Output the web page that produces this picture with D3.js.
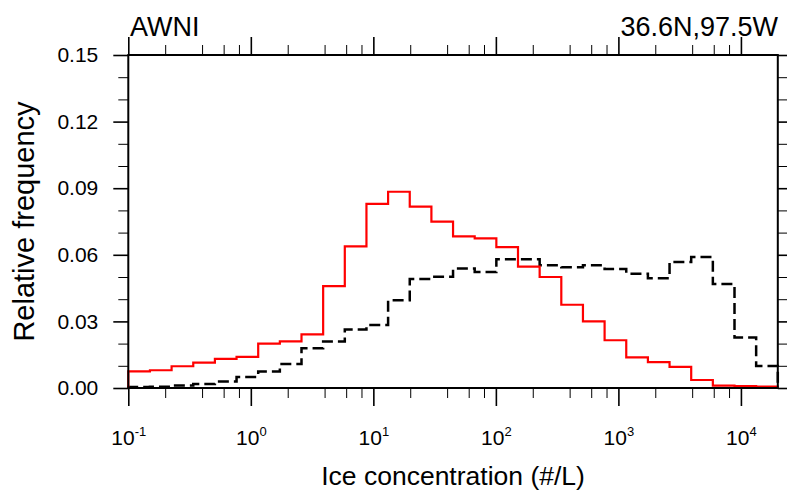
<!DOCTYPE html>
<html>
<head>
<meta charset="utf-8">
<script src="https://cdn.jsdelivr.net/npm/d3@7"></script>
<style>
  body { margin: 0; background: #fff; }
  svg { font-family: "Liberation Sans", Arial, sans-serif; }
  .axis path, .axis line { stroke: #000; }
</style>
</head>
<body>
<svg id="svg1" width="787" height="493"></svg>
<script>
var width = 787, height = 493;
var plotLeft = 128.3, plotRight = 777.8, plotTop = 55, plotBottom = 388;

// 30 log-spaced bins from 0.1 to 2e4 #/L
var nBins = 30;
var binEdges = d3.range(nBins + 1).map(function (k) {
    return Math.pow(10, -1 + k * Math.log10(2e5) / nBins);
});

// relative frequency per bin
var redFreq = [0.0075, 0.0080, 0.0098, 0.0114, 0.0131, 0.0140, 0.0200, 0.0210, 0.0242, 0.0459,
               0.0638, 0.0829, 0.0884, 0.0817, 0.0749, 0.0683, 0.0674, 0.0635, 0.0547, 0.0500,
               0.0375, 0.0300, 0.0215, 0.0138, 0.0117, 0.0095, 0.0036, 0.0011, 0.0009, 0.0006];
var blackFreq = [0.0005, 0.0006, 0.0011, 0.0018, 0.0029, 0.0050, 0.0074, 0.0108, 0.0179, 0.0209,
                 0.0264, 0.0284, 0.0395, 0.0491, 0.0501, 0.0538, 0.0523, 0.0580, 0.0580, 0.0553,
                 0.0544, 0.0553, 0.0536, 0.0515, 0.0494, 0.0568, 0.0590, 0.0468, 0.0228, 0.0099];

var xMajor = [0.1, 1, 10, 100, 1000, 10000];
var xExp = [-1, 0, 1, 2, 3, 4];
var xMinor = [];
xMajor.forEach(function (d) {
    [2, 4, 6, 8].forEach(function (m) { if (d * m < 2e4) xMinor.push(d * m); });
});
var yMajor = [0, 0.03, 0.06, 0.09, 0.12, 0.15];
var yMinor = d3.range(0, 16).map(function (i) { return i / 100; })
    .filter(function (v, i) { return i % 3 !== 0; });

var svg = d3.select('#svg1');

var x = d3.scaleLog().domain([0.1, 2e4]).range([plotLeft, plotRight]);
var y = d3.scaleLinear().domain([0, 0.15]).range([plotBottom, plotTop]);

function stepPoints(vals) {
    var pts = [[binEdges[0], 0]];
    vals.forEach(function (v, i) {
        pts.push([binEdges[i], v]);
        pts.push([binEdges[i + 1], v]);
    });
    pts.push([binEdges[nBins], 0]);
    return pts;
}

var line = d3.line()
    .x(function (d) { return x(d[0]); })
    .y(function (d) { return y(d[1]); });

svg.append('path')
    .attr('d', line(stepPoints(blackFreq)))
    .attr('fill', 'none')
    .attr('stroke', '#000')
    .attr('stroke-width', 2.5)
    .attr('stroke-dasharray', '11,5');

svg.append('path')
    .attr('d', line(stepPoints(redFreq)))
    .attr('fill', 'none')
    .attr('stroke', '#ff0000')
    .attr('stroke-width', 2.2);

// axes
function addAxis(axis, tx, ty, w) {
    var g = svg.append('g')
        .attr('class', 'axis')
        .attr('transform', 'translate(' + tx + ',' + ty + ')')
        .call(axis);
    g.select('.domain').remove();
    g.selectAll('line').attr('stroke-width', w);
    return g;
}

addAxis(d3.axisBottom(x).tickValues(xMinor).tickSize(10).tickFormat(''), 0, plotBottom, 1);
addAxis(d3.axisTop(x).tickValues(xMinor).tickSize(10).tickFormat(''), 0, plotTop, 1);
addAxis(d3.axisLeft(y).tickValues(yMinor).tickSize(10).tickFormat(''), plotLeft, 0, 1);
addAxis(d3.axisRight(y).tickValues(yMinor).tickSize(10).tickFormat(''), plotRight, 0, 1);

var gb = addAxis(d3.axisBottom(x).tickValues(xMajor).tickSize(18).tickFormat(''), 0, plotBottom, 1.6);
addAxis(d3.axisTop(x).tickValues(xMajor).tickSize(18).tickFormat(''), 0, plotTop, 1.6);
var gl = addAxis(d3.axisLeft(y).tickValues(yMajor).tickSize(15).tickPadding(15).tickFormat(d3.format('.2f')), plotLeft, 0, 1.6);
addAxis(d3.axisRight(y).tickValues(yMajor).tickSize(15).tickFormat(''), plotRight, 0, 1.6);

gl.attr('font-size', 21).attr('font-family', null);
gl.selectAll('text').attr('fill', '#000');

gb.attr('font-size', 21).attr('font-family', null);
gb.selectAll('.tick').each(function (d, i) {
    var t = d3.select(this).append('text')
        .attr('y', 57)
        .attr('text-anchor', 'middle')
        .attr('fill', '#000');
    t.append('tspan').text('10');
    t.append('tspan').attr('dy', -9).attr('font-size', 13).text(xExp[i]);
});

svg.append('rect')
    .attr('x', plotLeft).attr('y', plotTop)
    .attr('width', plotRight - plotLeft).attr('height', plotBottom - plotTop)
    .attr('fill', 'none')
    .attr('stroke', '#000')
    .attr('stroke-width', 2);

// titles
svg.append('text').attr('x', 130).attr('y', 36).attr('font-size', 27).text('AWNI');
svg.append('text').attr('x', 778).attr('y', 36).attr('text-anchor', 'end').attr('font-size', 27).text('36.6N,97.5W');
svg.append('text')
    .attr('transform', 'translate(34,' + ((plotTop + plotBottom) / 2) + ') rotate(-90)')
    .attr('text-anchor', 'middle')
    .attr('font-size', 29)
    .text('Relative frequency');
svg.append('text')
    .attr('x', (plotLeft + plotRight) / 2).attr('y', 485)
    .attr('text-anchor', 'middle')
    .attr('font-size', 26.5)
    .text('Ice concentration (#/L)');
</script>
</body>
</html>
